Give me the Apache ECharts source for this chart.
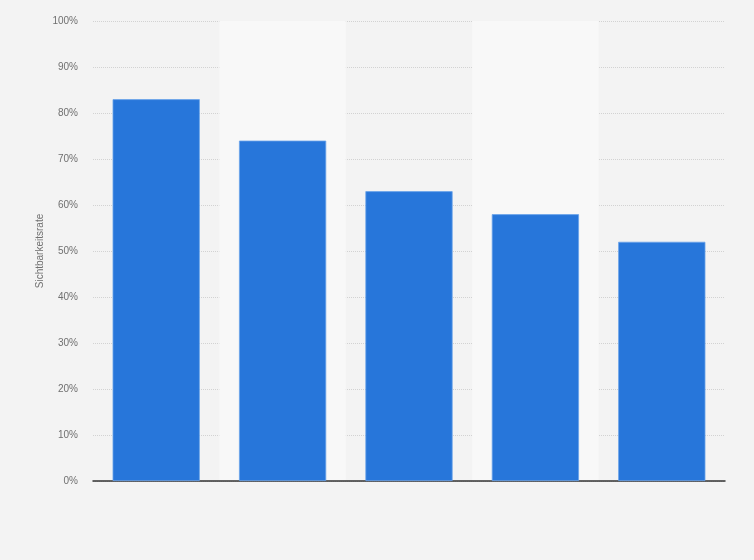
<!DOCTYPE html>
<html>
<head>
<meta charset="utf-8">
<script src="https://cdn.jsdelivr.net/npm/echarts@6/dist/echarts.min.js"></script>
<style>
  html, body { margin: 0; padding: 0; background: #f3f3f3; }
  #chart { width: 754px; height: 560px; }
</style>
</head>
<body>
<div id="chart"></div>
<script>
// categories have no visible labels in the reference
const categories = ['1', '2', '3', '4', '5'];
const visibility = [83, 74, 63, 58, 52];
const yTicks = [0, 10, 20, 30, 40, 50, 60, 70, 80, 90, 100];

document.addEventListener('DOMContentLoaded', () => {
    let chart = echarts.init(document.getElementById('chart'));
    let option = {
        backgroundColor: '#f3f3f3',
        textStyle: { fontFamily: 'Liberation Sans, Arial, sans-serif' },
        grid: {
            left: 93,
            right: 29,
            top: 21,
            bottom: 79
        },
        xAxis: {
            type: 'category',
            data: categories,
            axisLabel: { show: false },
            axisTick: { show: false },
            axisLine: { lineStyle: { color: '#333', width: 1.5 } },
            splitArea: {
                show: true,
                areaStyle: { color: ['rgba(0,0,0,0)', '#f8f8f8'] }
            }
        },
        yAxis: {
            type: 'value',
            min: yTicks[0],
            max: yTicks[yTicks.length - 1],
            interval: 10,
            name: 'Sichtbarkeitsrate',
            nameLocation: 'middle',
            nameGap: 48,
            nameMoveOverlap: false,
            nameTextStyle: { color: '#6f6f6f', fontSize: 10 },
            axisLabel: {
                color: '#6f6f6f',
                fontSize: 10,
                margin: 15,
                formatter: '{value}%'
            },
            axisLine: { show: false },
            axisTick: { show: false },
            splitLine: {
                lineStyle: { color: '#d2d2d2', type: 'dotted', width: 1 }
            }
        },
        series: [
            {
                name: 'Sichtbarkeitsrate',
                type: 'bar',
                data: visibility,
                barCategoryGap: '31%',
                itemStyle: {
                    color: '#2776da',
                    borderColor: '#6aa3ea',
                    borderWidth: 0.8
                }
            }
        ]
    };
    chart.setOption(option);
});
</script>
</body>
</html>
